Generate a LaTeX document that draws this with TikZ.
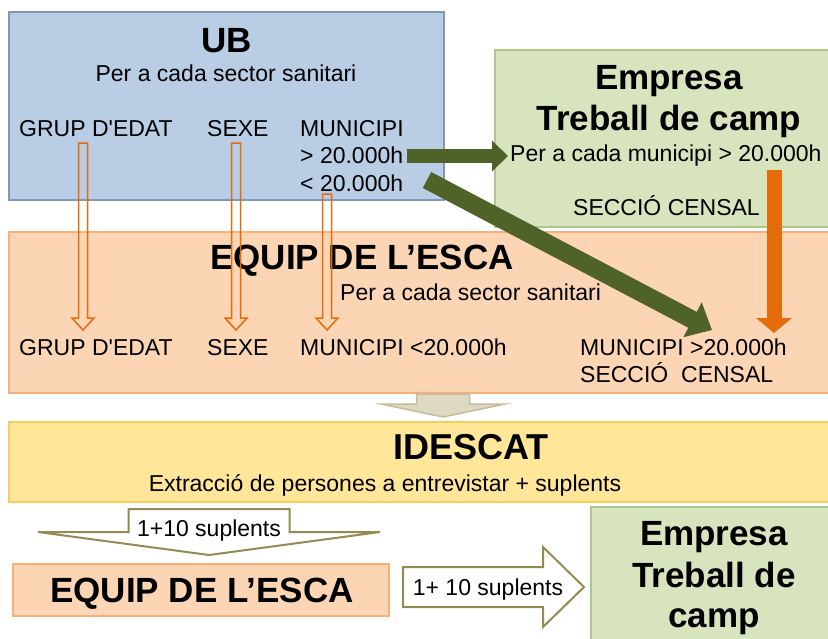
\documentclass[tikz,border=0pt]{standalone}
\usepackage{fontspec}
\setmainfont{Liberation Sans}
\usepackage{tikz}
\usetikzlibrary{positioning}
\usetikzlibrary{arrows.meta,calc}
\definecolor{ubfill}{HTML}{B9CDE5}
\definecolor{ubline}{HTML}{7F97B9}
\definecolor{empfill}{HTML}{D7E4BD}
\definecolor{empline}{HTML}{AFC58E}
\definecolor{escfill}{HTML}{FCD5B5}
\definecolor{escline}{HTML}{F6B07C}
\definecolor{idefill}{HTML}{FFE699}
\definecolor{ideline}{HTML}{F7CD5E}
\definecolor{darkgreen}{HTML}{4F6228}
\definecolor{orangearrow}{HTML}{E46C0A}
\definecolor{beigefill}{HTML}{DDD9C3}
\definecolor{beigeline}{HTML}{C4BD97}
\definecolor{oliveline}{HTML}{948A54}
\tikzstyle{box}=[draw, line width=1.2pt, inner sep=0pt]
\tikzstyle{bigtitle}=[font=\fontsize{35}{41}\selectfont\bfseries, inner sep=0pt, anchor=base]
\tikzstyle{txt}=[font=\fontsize{23}{27}\selectfont, inner sep=0pt, anchor=base west]
\tikzstyle{greenarrow}=[draw=darkgreen, line width=14pt]
\tikzstyle{hollow}=[draw=orangearrow, line width=1.5pt]
\tikzstyle{beigearrow}=[draw=beigeline, fill=beigefill, line width=1.5pt]
\tikzstyle{whitearrow}=[draw=oliveline, fill=white, line width=2pt]
% arrow outline: [style]{from}{to}{half shaft}{half head}{head length}
\newcommand{\hollowdown}[6][]{%
  \draw[#1] let \p1=(#2), \p2=(#3) in
    (\x1-#4,\y1) -- (\x1+#4,\y1) -- (\x1+#4,\y2+#6) -- (\x1+#5,\y2+#6)
    -- (\x1,\y2) -- (\x1-#5,\y2+#6) -- (\x1-#4,\y2+#6) -- cycle;}
\newcommand{\hollowright}[6][]{%
  \draw[#1] let \p1=(#2), \p2=(#3) in
    (\x1,\y1+#4) -- (\x2-#6,\y1+#4) -- (\x2-#6,\y1+#5) -- (\x2,\y1)
    -- (\x2-#6,\y1-#5) -- (\x2-#6,\y1-#4) -- (\x1,\y1-#4) -- cycle;}
\begin{document}
\begin{tikzpicture}[x=1pt, y=-1pt]
    \useasboundingbox (0,0) rectangle (828,638);

    \node[box, draw=ubline, fill=ubfill, minimum width=435pt, minimum height=188pt] (ub) at (226.5,106) {};
    \node[box, draw=empline, fill=empfill, minimum width=339pt, minimum height=177pt] (emptop) at (664.5,138.5) {};
    \node[box, draw=escline, fill=escfill, minimum width=823pt, minimum height=161pt] (escmid) at (420.5,312.5) {};
    \node[box, draw=ideline, fill=idefill, minimum width=823pt, minimum height=80pt] (idescat) at (420.5,462) {};
    \node[box, draw=escline, fill=escfill, minimum width=376pt, minimum height=52pt] (escbot) at (201,590) {};
    \node[box, draw=empline, fill=empfill, minimum width=241pt, minimum height=135pt] (empbot) at (711.5,574.5) {};

    % arrows
    \coordinate (gstart) at (407,156);
    \coordinate (gend) at (508,156);
    \draw[greenarrow, -{Triangle[length=16pt,width=30pt]}] (gstart) -- (gend);
    \coordinate (dstart) at (427,180);
    \coordinate (dend) at (712,330);
    \draw[greenarrow, line width=18pt, -{Triangle[length=22pt,width=38pt]}] (dstart) -- (dend);
    \coordinate (ostart) at (774,170);
    \coordinate (oend) at (774,333);
    \draw[draw=orangearrow, line width=15pt, -{Triangle[length=15pt,width=35pt]}] (ostart) -- (oend);

    \coordinate (bstart) at (443,394);
    \coordinate (bend) at (443,417);
    \hollowdown[beigearrow]{bstart}{bend}{26.5}{62}{13}
    \coordinate (wstart) at (209,509);
    \coordinate (wend) at (209,555);
    \hollowdown[whitearrow]{wstart}{wend}{80.5}{171}{23}
    \coordinate (rstart) at (403,587);
    \coordinate (rend) at (584,587);
    \hollowright[whitearrow]{rstart}{rend}{20}{40}{41}

    % UB
    \node[bigtitle] (ubtitle) at (227,52) {UB};
    \node[txt, anchor=base] (ubsub) at (226,81) {Per a cada sector sanitari};
    \foreach \px/\name/\text in {19/ubedat/GRUP D\textquotesingle EDAT, 207/ubsexe/SEXE, 300/ubmun/MUNICIPI}
        \node[txt] (\name) at (\px,136) {\text};
    \node[txt] (ubgt) at (300,163) {> 20.000h};
    \node[txt] (ublt) at (300,191) {< 20.000h};

    % Empresa
    \foreach \py/\name/\text in {89/emptop1/Empresa, 130/emptop2/Treball de camp}
        \node[bigtitle] (\name) at (669,\py) {\text};
    \node[txt] (empmun) at (510,161) {Per a cada municipi > 20.000h};
    \node[txt] (empsec) at (573,215) {SECCIÓ CENSAL};

    % Equip de l'ESCA
    \node[bigtitle] (esctitle) at (362,269) {EQUIP DE L’ESCA};
    \node[txt] (escsub) at (340,300) {Per a cada sector sanitari};
    \foreach \px/\name/\text in {19/escedat/GRUP D\textquotesingle EDAT, 207/escsexe/SEXE, 300/esclt/MUNICIPI <20.000h, 580/escgt/MUNICIPI >20.000h}
        \node[txt] (\name) at (\px,355) {\text};
    \node[txt] (escsec) at (580,382) {SECCIÓ\ \ CENSAL};

    % IDESCAT
    \node[bigtitle, font=\fontsize{36}{42}\selectfont\bfseries] (idetitle) at (471,459) {IDESCAT};
    \node[txt, anchor=base] (idesub) at (385,491) {Extracció de persones a entrevistar + suplents};

    \node[txt, anchor=base] (wlabel) at (209,536) {1+10 suplents};
    \node[bigtitle] (escbottitle) at (202,602) {EQUIP DE L’ESCA};
    \node[txt, anchor=base] (rlabel) at (488,595) {1+ 10 suplents};
    \foreach \py/\name/\text in {545/empbot1/Empresa, 587/empbot2/Treball de, 627/empbot3/camp}
        \node[bigtitle] (\name) at (714,\py) {\text};

    % orange outline arrows
    \foreach \px/\ya in {83/143, 236/143, 327/194} {
        \coordinate (h\px) at (\px,\ya);
        \coordinate (t\px) at (\px,330);
        \hollowdown[hollow]{h\px}{t\px}{4.5}{11}{12}
    }
\end{tikzpicture}
\end{document}
